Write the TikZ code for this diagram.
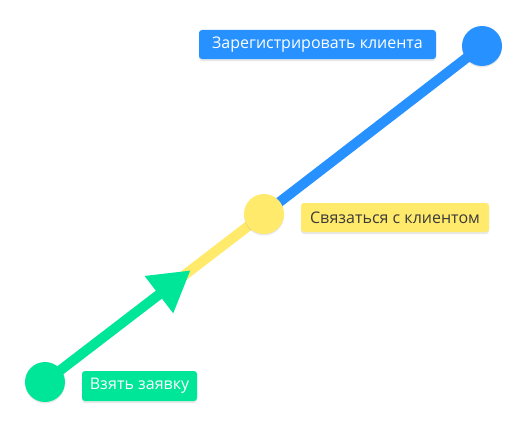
\documentclass[tikz,border=0pt]{standalone}
\usepackage{fontspec}
\setmainfont{Open Sans}
\usetikzlibrary{arrows.meta,shadows,calc}
\definecolor{cblue}{RGB}{38,145,255}
\definecolor{cgreen}{RGB}{0,230,153}
\definecolor{cyellow}{RGB}{255,234,107}
\definecolor{ctext}{RGB}{58,58,58}
\tikzset{
  dot/.style={circle,minimum size=40pt,inner sep=0pt,fill=#1,drop shadow={opacity=0.18,shadow xshift=0pt,shadow yshift=-1.5pt}},
  lbl/.style={rounded corners=3pt,fill=#1,inner sep=0pt,minimum height=29pt,font=\fontsize{16}{18}\selectfont,drop shadow={opacity=0.18,shadow xshift=0pt,shadow yshift=-2pt}},
  seg/.style={line width=10pt,draw=#1}
}
\begin{document}
\begin{tikzpicture}[x=1pt,y=-1pt]
\useasboundingbox[fill=white] (0,0) rectangle (529,428);
\coordinate (gc) at (45,382);
\coordinate (yc) at (264,214);
\coordinate (bc) at (482,46);
\coordinate (ybeg) at ($(gc)!0.55!(yc)$);
\coordinate (tip) at ($(gc)!0.665!(yc)$);
% segments
\draw[seg=cblue] (yc) -- (bc);
\draw[seg=cyellow] (ybeg) -- (yc);
\draw[seg=cgreen,-{Triangle[length=40pt,width=44pt]}] (gc) -- (tip);
% dots
\node[dot=cgreen] (g) at (gc) {};
\node[dot=cyellow] (y) at (yc) {};
\node[dot=cblue] (b) at (bc) {};
% labels
\node[lbl=cblue,minimum width=237pt,text=white] (lb) at (317.5,44.5) {Зарегистрировать клиента};
\node[lbl=cyellow,minimum width=188pt,text=ctext] (ly) at (395,217.5) {Связаться с клиентом};
\node[lbl=cgreen,minimum width=115pt,minimum height=30pt,text=white] (lg) at (139.5,386) {Взять заявку};
\end{tikzpicture}
\end{document}
